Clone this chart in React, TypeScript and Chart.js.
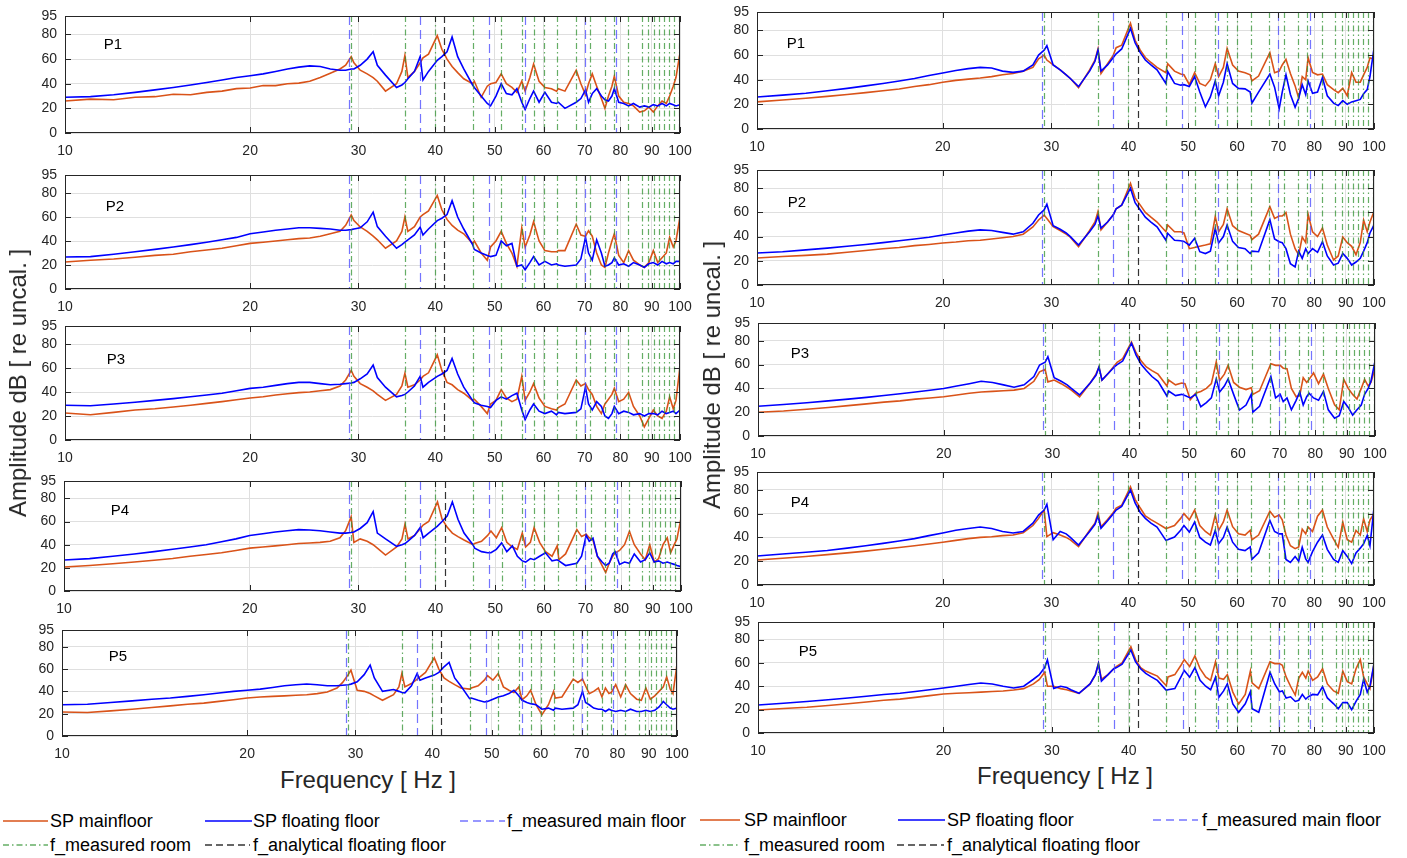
import React, { useEffect, useRef } from "react";
import { Chart, registerables } from "chart.js";
Chart.register(...registerables);

const FONT = '"Liberation Sans", Arial, Helvetica, sans-serif';

// shared frequency axis (Hz)
const FREQ = [
  10, 11, 12, 13, 14, 15, 16, 17, 18, 19, 20, 21, 22, 23, 24, 25, 26, 27, 28,
  28.6, 29.2, 29.5, 30.2, 31, 31.7, 32.2, 33.2, 34.6, 35.3, 35.7, 36.1, 37, 37.8, 38.2, 39, 40.3, 41, 41.8, 42.6, 43.5, 44.5,
  46, 46.3, 47.5, 48.6, 49.2, 50.2, 51.2, 52.2, 53.3, 54.3, 55.3, 56, 57, 57.8, 59, 60.3, 61.8, 63, 63.4, 65, 67.8, 69, 70.2,
  71, 72, 73.2, 74.5, 75.5, 76.5, 77.5, 78.2, 79.5, 81, 82.5, 84, 86, 87.5, 89, 90.5, 92, 93.5, 95, 96.2, 97.5, 98.5, 100,
];

// Left column
const L1_MAIN = [
  26, 27.5, 27, 29, 29.5, 31.5, 31, 33, 34, 36, 36.5, 38.5, 38.5, 40, 40.5, 42, 45, 48.5, 52,
  55, 62, 57, 51, 48, 45, 42, 34, 40, 50, 63, 45, 50, 57, 61, 64, 79, 68, 60, 54, 49, 44,
  40, 42, 29, 38, 40, 41, 48, 40, 37, 33, 42, 34, 45, 56, 42, 37, 36, 34, 36, 34, 51, 40, 31,
  40, 48, 38, 28, 20, 30, 38, 46, 30, 25, 24, 22, 17, 18, 21, 17, 22, 26, 24, 30, 38, 45, 65,
];
const L1_FLOAT = [
  29, 29.5, 31, 33, 35, 37, 39, 41, 43, 45, 46.5, 48, 50, 52, 53.5, 54.5, 54, 52, 51,
  51, 52, 52, 55, 60, 66, 55, 47, 37, 39, 41, 44, 50, 62, 43, 50, 59, 62, 66, 78, 62, 52,
  39, 37, 30, 24, 22, 30, 40, 32, 31, 36, 25, 19, 28, 34, 25, 33, 25, 24, 25, 20, 25, 28, 35,
  25, 32, 36, 30, 27, 26, 30, 36, 25, 24, 22, 24, 21, 22, 21, 23, 22, 24, 22, 24, 23, 22, 23,
];
const L2_MAIN = [
  22.5, 24, 25, 26.5, 28, 29, 31, 32.5, 34, 36, 38, 39, 40, 41, 42, 42.5, 44, 46, 48,
  53, 61.7, 57, 51.7, 48, 44, 41, 34, 40, 48, 60, 48, 52, 60, 62, 65, 78, 66, 58, 53, 49, 46,
  38, 40, 30, 24, 35, 40, 48, 38, 30, 19, 51, 35, 45, 56, 40, 32, 31, 31, 32, 32, 54, 45, 44,
  48.6, 44, 30, 20, 18, 30, 40, 46, 28, 22, 32, 24, 20, 18, 22, 32, 22, 26, 30, 43, 35, 40, 60,
];
const L2_FLOAT = [
  26.7, 27, 29, 31, 33, 35, 37, 39, 41, 43, 46, 47.5, 49, 50, 51, 51, 50.5, 50, 49,
  49, 49.5, 50, 51, 56, 64, 52, 44, 34, 37, 39, 41, 45, 51.5, 45, 50, 57, 59, 62, 73.6, 60, 50,
  37, 33, 30, 28, 27, 28, 40, 36, 38, 19, 20, 16, 22, 27, 20, 23, 20, 21, 20, 19, 20, 25, 43,
  30, 24, 41, 30, 19, 20, 22, 26, 20, 21, 19, 22, 20, 18, 21, 22, 20, 23, 21, 22, 21, 23, 23,
];
const L3_MAIN = [
  22.5, 21, 23, 25, 26, 27.5, 29, 30.5, 32, 33.5, 35, 36, 37.5, 38.5, 39.5, 40, 41, 42, 45,
  50, 58, 53, 47, 44, 41, 38, 33, 38, 45, 55.6, 44, 46, 50, 53, 56, 71, 58, 48, 46, 42, 39,
  33, 34, 28, 22, 30, 33, 42, 35, 32, 34, 53, 33, 40, 47, 35, 28, 26, 25, 27, 30, 50, 45, 47,
  42, 38, 28, 22, 30, 34, 38, 43, 32, 34, 39.7, 28, 20, 11, 18, 25, 20, 18, 24, 36, 26, 33, 61,
];
const L3_FLOAT = [
  29, 28.5, 30, 31.5, 33, 34.5, 36, 37.5, 39, 41, 43, 44, 45.5, 47, 48, 48, 47, 46, 46.5,
  47, 47.5, 48, 51, 55, 62.5, 52, 44, 36, 37, 38, 40, 45, 53, 44, 48, 53, 55, 58, 68, 55, 44,
  33, 31, 29, 28, 27, 33, 36, 34, 37, 39, 25, 17, 25, 30, 24, 22, 24, 21, 23, 22, 23, 26, 44,
  30, 25, 32, 28, 20, 18, 22, 28, 22, 24, 23, 21, 22, 20, 22, 22, 21, 24, 22, 23, 24, 22, 25,
];
const L4_MAIN = [
  20.7, 22, 23.5, 25, 26.5, 28, 30, 31.5, 33, 35, 37, 38, 39, 40, 41, 41.5, 42, 43, 46,
  52, 64, 42, 45, 43, 40, 37, 31, 38, 45, 57.7, 45, 48, 54, 57, 60, 77, 62, 55, 50, 47, 44,
  40, 41, 43, 48, 51.8, 46, 54.7, 42, 38, 36, 50, 38, 42, 54.7, 42, 34, 30, 39, 27, 32, 53, 47, 49,
  46, 44, 30, 22, 16, 24, 30, 33, 35, 40, 51.6, 40, 32, 27, 40, 25, 28, 40, 46, 33, 40, 45, 63,
];
const L4_FLOAT = [
  26.8, 28, 30, 32, 34, 36, 38, 40, 42.5, 45, 48, 49.5, 51, 52, 53, 52.7, 52, 51, 50,
  50, 50.5, 51, 54, 59, 68.5, 50, 45, 38.6, 40, 41, 43, 48, 55, 46, 50, 56, 60, 65, 77, 62, 50,
  40, 37, 34, 33, 33, 36, 41.5, 34, 39, 30, 26, 25, 28, 27, 30, 33, 26, 27, 26, 22, 24, 30, 48,
  43, 45.7, 30, 25, 22, 24, 32, 34, 23, 25, 24, 32, 25, 27, 33, 25, 26, 24, 25, 24, 23, 22, 21,
];
const L5_MAIN = [
  21.5, 21, 22.5, 24, 25.5, 27, 28.5, 29.5, 31, 32.5, 34, 35, 35.5, 36, 36.5, 37, 38, 39.5, 43,
  48, 55, 59, 41, 40, 38, 36, 32, 37, 44, 56, 44, 47, 51, 53, 57, 70, 60, 52, 49, 46, 43,
  42, 43, 45, 50, 54, 50, 56, 44, 41, 39, 44, 32.5, 36, 41, 28, 19, 28, 40, 34, 35, 51, 48, 51,
  45, 38, 40, 43, 35, 43, 38, 39, 46, 35, 46, 38, 33, 32, 43, 33, 36, 40, 44, 53, 42, 38, 64,
];
const L5_FLOAT = [
  28, 28.5, 30, 31.5, 33, 34, 35.5, 37, 38.5, 40, 41, 42, 43.5, 45, 46, 46.6, 46, 45, 45,
  45.5, 46, 46.5, 48.6, 55, 63.6, 52, 40, 41.6, 40, 39, 38.7, 45, 56, 50, 52, 54.6, 57, 62, 66, 52, 45,
  33.5, 34, 32, 30.5, 31, 33, 35, 36, 38, 41, 36, 32, 30, 29, 28, 24, 25, 23, 25, 24, 25, 28, 40,
  30, 28, 25, 24, 24, 22, 24, 23, 22, 23, 22, 24, 22, 22, 23, 22, 23, 26, 31, 28, 25, 24, 25,
];

// Right column
const R1_MAIN = [
  22, 23.5, 25, 26.5, 28, 29.5, 31, 32.5, 34.5, 36, 38, 39.5, 40.5, 41.4, 42.5, 44, 45, 47, 50,
  57, 60, 56, 52, 48, 44, 41, 33.6, 48, 56, 65, 45, 53, 60, 66, 68, 85.8, 72, 64, 58, 54, 50,
  45.7, 53, 47, 44.6, 44, 36, 45.7, 37, 35, 40, 53, 42.6, 50, 65.5, 52, 47, 45.7, 44, 39, 43, 62, 45.7, 47,
  52, 56.6, 45, 35, 25, 42.6, 40, 57.8, 46, 44, 44.6, 36, 32, 29.5, 33, 27, 45.7, 38, 38, 44, 50, 57.8, 56.6,
];
const R1_FLOAT = [
  26, 27.5, 29, 31, 33, 35, 37, 39, 41, 43.5, 45.5, 47.5, 49, 50, 49.5, 47, 46, 47, 52,
  60, 64, 67.6, 52, 48, 44, 41, 34.4, 47, 55, 64, 47, 52, 58, 61, 65, 81.7, 70, 62, 56, 52, 48,
  37, 46.7, 37, 35.6, 36, 34.5, 42.6, 30, 18, 26, 39, 27, 38, 53, 37, 33, 32.6, 30, 21, 30, 44.6, 34, 16.5,
  30, 44, 28, 17.6, 25, 36, 28, 39, 29, 30, 41.8, 27, 21, 19, 23, 20, 22, 23, 24, 28.6, 32, 42.6, 65.5,
];
const R2_MAIN = [
  22.3, 23.5, 24.5, 25.5, 27, 28.5, 30, 31, 32.5, 33.5, 34.7, 35.5, 36.5, 37, 38, 39, 40, 42, 48,
  53.7, 57.8, 55, 48.2, 45, 42, 39.5, 31.7, 45, 52, 60.6, 45.5, 52, 58, 63, 66, 84, 72, 66, 60, 56, 52,
  44, 49.6, 44, 44, 43, 30, 31, 32, 33, 34, 56.5, 44, 50, 63, 49, 45, 42.7, 41, 37.5, 42, 64.7, 55, 57,
  57, 59.8, 42, 30, 25, 39.6, 35, 58.4, 44, 40, 47, 33, 20.7, 24, 39.6, 35, 32, 25, 35, 53.7, 44, 52, 60.6,
];
const R2_FLOAT = [
  26.4, 27.5, 29, 30.5, 32, 33.5, 35, 36.5, 38, 39.5, 41.3, 43, 44.5, 45.5, 45, 43.5, 42, 44, 51,
  57.8, 62, 66.7, 49, 46, 43, 40, 33, 44, 50, 57, 47, 52, 58, 63, 66, 80, 68, 62, 56, 52, 48,
  37, 42.7, 37, 36.6, 36, 33, 38.6, 27.5, 26, 28, 46.8, 34.7, 40, 49.6, 36, 31, 30, 26, 28, 27.5, 54, 38, 35.8,
  35, 30, 17.6, 15, 28, 22, 30, 26, 30, 27, 35.8, 24, 16.5, 18, 26, 22, 16.5, 19, 22, 28, 35, 43, 49.6,
];
const R3_MAIN = [
  20, 21, 22.5, 24, 25.5, 27, 28.5, 29.5, 31, 32, 33, 34.5, 36, 37, 37.5, 38, 38.6, 40, 46,
  54, 56, 45.5, 47, 44, 41, 38.5, 33, 45, 52, 58, 47, 53, 59, 62, 65, 79, 70, 63, 58, 55, 52,
  42, 47, 43, 44.5, 44, 30.5, 36, 37.5, 40, 44, 62.4, 46.7, 52, 59.4, 45, 41, 39, 40.6, 35, 38, 60.8, 59.4, 59.4,
  57, 56.6, 40, 33, 34, 49, 45, 47.6, 53, 44, 52, 40, 26.3, 22, 47.6, 40, 35, 31, 40, 47.6, 42, 45, 56.6,
];
const R3_FLOAT = [
  25, 26.5, 28, 29.5, 31, 32.5, 34, 35.5, 37, 38.5, 40, 42, 44, 46, 45, 43, 41, 43, 50,
  59.7, 62, 66.6, 49, 46, 43, 40, 34.5, 45, 51, 58, 47, 53, 58, 60, 63, 78, 68, 60, 55, 50, 46,
  33.6, 37.8, 34, 35, 34, 32, 35, 24.6, 28, 32, 48, 37, 42, 48, 35, 21.8, 26, 35, 20, 25, 50, 32, 35,
  29, 32, 22, 30, 37, 26, 33, 36, 32, 30, 37.5, 22, 15, 17, 29, 24, 17.6, 22, 26, 35, 40, 46, 63,
];
const R4_MAIN = [
  21, 22.5, 24, 25.5, 27, 28.5, 30, 31.5, 33, 34.5, 36, 37.5, 39, 40, 40.5, 41.5, 42, 44, 50,
  56, 63, 40.6, 44, 42, 40, 38, 32.3, 46, 52, 60.5, 49, 55, 61, 64.7, 67, 82.6, 72, 64.7, 58, 55, 52,
  47.5, 48, 50, 56, 60, 54.8, 63, 50, 45, 42, 58.8, 46, 53, 63, 49, 43, 42, 46, 38, 42, 62, 57, 58.8,
  54.8, 42, 33, 30.6, 32, 47, 43, 48.7, 45, 57.8, 63, 48.7, 38.6, 31.7, 52.9, 38, 36, 45.9, 42, 55.7, 45, 54.6, 60,
];
const R4_FLOAT = [
  24.4, 26, 27.5, 29, 31, 33, 35, 37, 39, 41.5, 43.7, 46, 47.5, 48.7, 47.5, 45, 43.7, 45, 52,
  58.8, 63, 67.8, 38, 45, 43, 40, 33.6, 45, 51, 58, 47.6, 54, 60, 63, 66, 79.8, 69, 61, 56, 52, 48.7,
  37.5, 38, 40.3, 46, 50, 44.5, 52.9, 40, 36, 33.6, 46, 34.7, 40, 48.7, 36, 30, 28.9, 32, 21.5, 27, 54.3, 45, 43,
  43, 21.5, 19, 24, 20, 31.7, 22, 19, 28, 36, 42, 30, 21.5, 19, 28.9, 24, 18, 27, 31, 34.7, 41.7, 33, 65,
];
const R5_MAIN = [
  19.7, 21, 22, 23.5, 25, 26.5, 28, 29, 30.5, 32, 33.4, 34, 34.5, 35, 35.5, 36, 36.8, 38, 42,
  45.6, 52, 40, 40, 38, 37, 36, 34, 42, 50, 59.4, 46, 50, 55, 57, 60, 73.9, 63, 56, 53, 51, 48.7,
  40.5, 48, 50, 58, 62.8, 57, 66, 55, 48, 45, 61, 47, 46, 50, 35, 24.8, 33, 53, 43, 38, 61, 59.4, 59.4,
  58, 48, 40, 32.5, 47, 52, 47, 53, 45, 48, 55, 42, 36, 34, 53, 44, 42, 55, 62.8, 48, 42, 38, 59,
];
const R5_FLOAT = [
  24, 25.5, 27, 28.5, 30, 31.5, 33, 34, 35.5, 37, 38.5, 40, 41.5, 42.8, 42, 40, 38.5, 40, 46,
  49.7, 56, 62.5, 38.2, 40, 39, 37, 34, 42, 50, 59.4, 44.5, 50, 55, 56, 59, 71, 61, 55, 51, 48, 45,
  36.5, 37, 38, 48, 53.5, 47.8, 56, 45, 40, 37, 47.8, 30.6, 36, 42, 24.8, 17.7, 25, 35.3, 20.8, 17.7, 52, 42, 35.3,
  36, 30, 31, 27, 28, 33, 29, 31, 33, 32.6, 39.6, 30, 25, 20.8, 26, 26, 20, 27, 33, 46, 35, 40, 59.4,
];

// marker frequencies
const MAIN_FLOOR_F = [29.0, 37.8, 48.9, 55.9, 70.0, 78.8];
const ROOM_F = [29.2, 35.7, 40.0, 46.0, 51.2, 55.3, 57.8, 60.0, 63.1, 67.7, 71.5, 75.4, 78.0, 82.4, 86.6, 88.7, 90.6, 92.5, 94.3, 96.0, 97.9, 99.6];
const ANALYTICAL_F = [41.4];

const X_TICKS = [10, 20, 30, 40, 50, 60, 70, 80, 90, 100];
const Y_TICKS = [0, 20, 40, 60, 80, 95];

const ORANGE = "#D95319";
const BLUE = "#0000FF";
const ROOM_COLOR = "rgba(50,145,50,0.75)";
const MAINF_COLOR = "rgba(70,70,255,0.75)";
const ANAL_COLOR = "rgba(0,0,0,0.8)";
const AXIS_COLOR = "#262626";

const PAD_L = 45;
const PAD_T = 18;
const PAD_R = 25;
const PAD_B = 28;

type PanelDef = { name: string; main: number[]; float: number[]; l: number; t: number; r: number; b: number; lx: number; ly: number };

const PANELS: PanelDef[] = [
  { name: "P1", main: L1_MAIN, float: L1_FLOAT, l: 65, t: 16, r: 680, b: 133, lx: 48, ly: 29 },
  { name: "P2", main: L2_MAIN, float: L2_FLOAT, l: 65, t: 175, r: 680, b: 289, lx: 50, ly: 32 },
  { name: "P3", main: L3_MAIN, float: L3_FLOAT, l: 65, t: 326, r: 680, b: 440, lx: 51, ly: 34 },
  { name: "P4", main: L4_MAIN, float: L4_FLOAT, l: 64, t: 481, r: 681, b: 591, lx: 56, ly: 30 },
  { name: "P5", main: L5_MAIN, float: L5_FLOAT, l: 62, t: 630, r: 677, b: 736, lx: 56, ly: 27 },
  { name: "P1", main: R1_MAIN, float: R1_FLOAT, l: 757, t: 12, r: 1374, b: 129, lx: 39, ly: 32 },
  { name: "P2", main: R2_MAIN, float: R2_FLOAT, l: 757, t: 170, r: 1374, b: 285, lx: 40, ly: 33 },
  { name: "P3", main: R3_MAIN, float: R3_FLOAT, l: 758, t: 323, r: 1375, b: 436, lx: 42, ly: 31 },
  { name: "P4", main: R4_MAIN, float: R4_FLOAT, l: 757, t: 472, r: 1374, b: 585, lx: 43, ly: 31 },
  { name: "P5", main: R5_MAIN, float: R5_FLOAT, l: 758, t: 622, r: 1374, b: 733, lx: 50, ly: 30 },
];

function makeFramePlugin(p: PanelDef) {
  return {
    id: "frame",
    afterDatasetsDraw(chart: any) {
      const { ctx, chartArea } = chart;
      const { left, top, right, bottom } = chartArea;
      const xs = chart.scales.x;
      ctx.save();
      ctx.beginPath();
      ctx.rect(left, top, right - left, bottom - top);
      ctx.clip();
      const drawV = (arr: number[], color: string, dash: number[]) => {
        ctx.strokeStyle = color;
        ctx.lineWidth = 1.2;
        ctx.setLineDash(dash);
        arr.forEach((f) => {
          const px = Math.round(xs.getPixelForValue(f)) + 0.5;
          ctx.beginPath();
          ctx.moveTo(px, top);
          ctx.lineTo(px, bottom);
          ctx.stroke();
        });
      };
      drawV(MAIN_FLOOR_F, MAINF_COLOR, [9, 5]);
      drawV(ROOM_F, ROOM_COLOR, [6, 3, 1.5, 3]);
      drawV(ANALYTICAL_F, ANAL_COLOR, [7, 4]);
      ctx.restore();
    },
    afterDraw(chart: any) {
      const { ctx, chartArea } = chart;
      const { left, top, right, bottom } = chartArea;
      const xs = chart.scales.x;
      const ys = chart.scales.y;
      ctx.save();
      ctx.strokeStyle = AXIS_COLOR;
      ctx.lineWidth = 1;
      ctx.setLineDash([]);
      ctx.strokeRect(left + 0.5, top + 0.5, right - left - 1, bottom - top - 1);
      ctx.beginPath();
      X_TICKS.forEach((v) => {
        const px = Math.round(xs.getPixelForValue(v)) + 0.5;
        ctx.moveTo(px, bottom);
        ctx.lineTo(px, bottom - 6);
        ctx.moveTo(px, top);
        ctx.lineTo(px, top + 6);
      });
      Y_TICKS.forEach((v) => {
        const py = Math.round(ys.getPixelForValue(v)) + 0.5;
        ctx.moveTo(left, py);
        ctx.lineTo(left + 6, py);
        ctx.moveTo(right, py);
        ctx.lineTo(right - 6, py);
      });
      ctx.stroke();
      ctx.fillStyle = "#000";
      ctx.font = `15px ${FONT}`;
      ctx.textAlign = "center";
      ctx.textBaseline = "middle";
      ctx.fillText(p.name, left + p.lx, top + p.ly);
      ctx.restore();
    },
  };
}

function Panel({ p }: { p: PanelDef }) {
  const ref = useRef<HTMLCanvasElement | null>(null);
  const W = p.r - p.l + PAD_L + PAD_R;
  const H = p.b - p.t + PAD_T + PAD_B;
  useEffect(() => {
    if (!ref.current) return;
    const tickFont = { family: FONT, size: 14 };
    const chart = new Chart(ref.current, {
      type: "line",
      data: {
        datasets: [
          {
            label: "SP floating floor",
            data: FREQ.map((f, i) => ({ x: f, y: p.float[i] })),
            borderColor: BLUE,
            borderWidth: 1.6,
            pointRadius: 0,
            tension: 0,
            order: 0,
          },
          {
            label: "SP mainfloor",
            data: FREQ.map((f, i) => ({ x: f, y: p.main[i] })),
            borderColor: ORANGE,
            borderWidth: 1.6,
            pointRadius: 0,
            tension: 0,
            order: 1,
          },
        ],
      } as any,
      options: {
        responsive: false,
        maintainAspectRatio: false,
        animation: false,
        events: [],
        layout: { padding: { top: PAD_T, right: PAD_R, left: 0, bottom: 0 } },
        plugins: { legend: { display: false }, tooltip: { enabled: false } },
        scales: {
          x: {
            type: "logarithmic",
            min: 10,
            max: 100,
            afterBuildTicks: (s: any) => {
              s.ticks = X_TICKS.map((v) => ({ value: v }));
            },
            afterFit: (s: any) => {
              s.height = PAD_B;
            },
            ticks: {
              callback: (v: any) => String(v),
              autoSkip: false,
              maxRotation: 0,
              minRotation: 0,
              padding: 10,
              font: tickFont,
              color: AXIS_COLOR,
            },
            grid: { color: "#dfdfdf", drawTicks: false, lineWidth: 1 },
            border: { display: false },
          },
          y: {
            type: "linear",
            min: 0,
            max: 95,
            afterBuildTicks: (s: any) => {
              s.ticks = Y_TICKS.map((v) => ({ value: v }));
            },
            afterFit: (s: any) => {
              s.width = PAD_L;
            },
            ticks: {
              callback: (v: any) => String(v),
              padding: 8,
              font: tickFont,
              color: AXIS_COLOR,
            },
            grid: { color: "#dfdfdf", drawTicks: false, lineWidth: 1 },
            border: { display: false },
          },
        },
      } as any,
      plugins: [makeFramePlugin(p)],
    });
    return () => chart.destroy();
  }, []);
  return (
    <canvas
      ref={ref}
      width={W}
      height={H}
      style={{ position: "absolute", left: p.l - PAD_L, top: p.t - PAD_T, width: W, height: H }}
    />
  );
}

type LegendDef = { x: number; y: number; w: number; tx: number; text: string; color: string; dash: string };

const LEGEND_ITEMS: LegendDef[] = [
  { x: 3, y: 821, w: 45, tx: 50, text: "SP mainfloor", color: ORANGE, dash: "" },
  { x: 205, y: 821, w: 47, tx: 253, text: "SP floating floor", color: BLUE, dash: "" },
  { x: 460, y: 821, w: 45, tx: 507, text: "f_measured main floor", color: MAINF_COLOR, dash: "8 5" },
  { x: 3, y: 845, w: 45, tx: 50, text: "f_measured room", color: ROOM_COLOR, dash: "6 3 1.5 3" },
  { x: 205, y: 845, w: 45, tx: 253, text: "f_analytical floating floor", color: ANAL_COLOR, dash: "7 4" },
  { x: 700, y: 820, w: 40, tx: 744, text: "SP mainfloor", color: ORANGE, dash: "" },
  { x: 898, y: 820, w: 47, tx: 947, text: "SP floating floor", color: BLUE, dash: "" },
  { x: 1153, y: 820, w: 45, tx: 1202, text: "f_measured main floor", color: MAINF_COLOR, dash: "8 5" },
  { x: 700, y: 845, w: 40, tx: 744, text: "f_measured room", color: ROOM_COLOR, dash: "6 3 1.5 3" },
  { x: 897, y: 845, w: 47, tx: 947, text: "f_analytical floating floor", color: ANAL_COLOR, dash: "7 4" },
];

function LegendItem({ d }: { d: LegendDef }) {
  return (
    <>
      <svg style={{ position: "absolute", left: d.x, top: d.y - 5 }} width={d.w} height={10}>
        <line x1={0} y1={5} x2={d.w} y2={5} stroke={d.color} strokeWidth={1.5} strokeDasharray={d.dash || undefined} />
      </svg>
      <div
        style={{
          position: "absolute",
          left: d.tx,
          top: d.y,
          transform: "translateY(-50%)",
          font: `18px ${FONT}`,
          lineHeight: "20px",
          color: "#000",
          whiteSpace: "nowrap",
        }}
      >
        {d.text}
      </div>
    </>
  );
}

function AxisTitle({ x, y, text, rotate, size }: { x: number; y: number; text: string; rotate: boolean; size: number }) {
  return (
    <div
      style={{
        position: "absolute",
        left: x,
        top: y,
        transform: `translate(-50%, -50%)${rotate ? " rotate(-90deg)" : ""}`,
        font: `${size}px ${FONT}`,
        lineHeight: `${size + 4}px`,
        color: AXIS_COLOR,
        whiteSpace: "nowrap",
      }}
    >
      {text}
    </div>
  );
}

export default function App() {
  return (
    <div
      style={{
        position: "fixed",
        left: 0,
        top: 0,
        width: 1407,
        height: 858,
        background: "#fff",
        overflow: "hidden",
      }}
    >
      {PANELS.map((p, i) => (
        <Panel key={i} p={p} />
      ))}
      <AxisTitle x={18} y={383} text="Amplitude dB [ re uncal. ]" rotate={true} size={24} />
      <AxisTitle x={712} y={375} text="Amplitude dB [ re uncal. ]" rotate={true} size={24} />
      <AxisTitle x={368} y={780} text="Frequency [ Hz ]" rotate={false} size={24} />
      <AxisTitle x={1065} y={776} text="Frequency [ Hz ]" rotate={false} size={24} />
      {LEGEND_ITEMS.map((d, i) => (
        <LegendItem key={i} d={d} />
      ))}
    </div>
  );
}
